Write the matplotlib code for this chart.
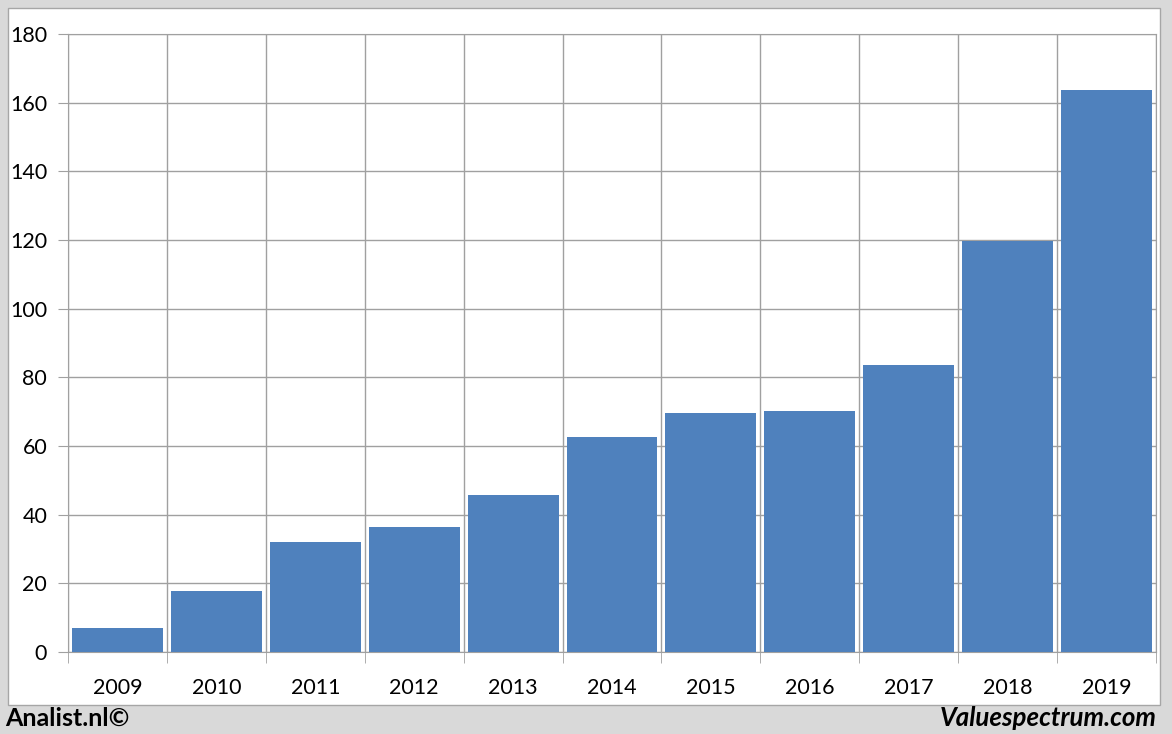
import matplotlib
matplotlib.use('Agg')
import matplotlib.pyplot as plt
from matplotlib.patches import Rectangle

years = ['2009', '2010', '2011', '2012', '2013', '2014', '2015', '2016', '2017', '2018', '2019']
values = [7.0, 17.8, 32.0, 36.4, 45.7, 62.6, 69.6, 70.2, 83.6, 119.7, 163.7]
yticks = [0, 20, 40, 60, 80, 100, 120, 140, 160, 180]

W, H = 1172, 734
fig = plt.figure(figsize=(W / 100, H / 100), dpi=100)
fig.patch.set_facecolor('#d9d9d9')
plt.rcParams['font.family'] = ['Lato', 'DejaVu Sans']

# white panel behind the chart
fig.patches.append(Rectangle((8 / W, 1 - 705 / H), (1160 - 8) / W, (705 - 8) / H,
                             transform=fig.transFigure, facecolor='white',
                             edgecolor='#a6a6a6', linewidth=1, zorder=-10))

ax = fig.add_axes([68 / W, 1 - 652 / H, (1156 - 68) / W, (652 - 34) / H])
ax.set_facecolor('white')
x = list(range(len(years)))
ax.bar(x, values, width=0.92, color='#4f81bd', zorder=3)
ax.set_xlim(-0.5, len(years) - 0.5)
ax.set_ylim(0, 180)
ax.set_yticks(yticks)
ax.set_yticklabels([str(v) for v in yticks], fontsize=15.5)
ax.set_xticks(x)
ax.set_xticklabels(years, fontsize=15.5)
ax.tick_params(axis='x', length=0, pad=19)
ax.set_xticks([i - 0.5 for i in range(len(years) + 1)], minor=True)
ax.tick_params(axis='x', which='minor', length=8, color='#a0a0a0')
ax.tick_params(axis='y', length=7, color='#a0a0a0', pad=8)
ax.grid(axis='y', color='#a0a0a0', linewidth=1, zorder=0)
ax.grid(axis='x', which='minor', color='#a0a0a0', linewidth=1, zorder=0)
for s in ax.spines.values():
    s.set_color('#a0a0a0')

fig.text(5 / W, 1 - 718 / H, 'Analist.nl©', fontsize=18, fontweight='bold',
         ha='left', va='center')
fig.text(1157 / W, 1 - 718 / H, 'Valuespectrum.com', fontsize=18.6, fontweight='bold',
         style='italic', ha='right', va='center')

fig.savefig('out.png', dpi=100, facecolor=fig.get_facecolor())
